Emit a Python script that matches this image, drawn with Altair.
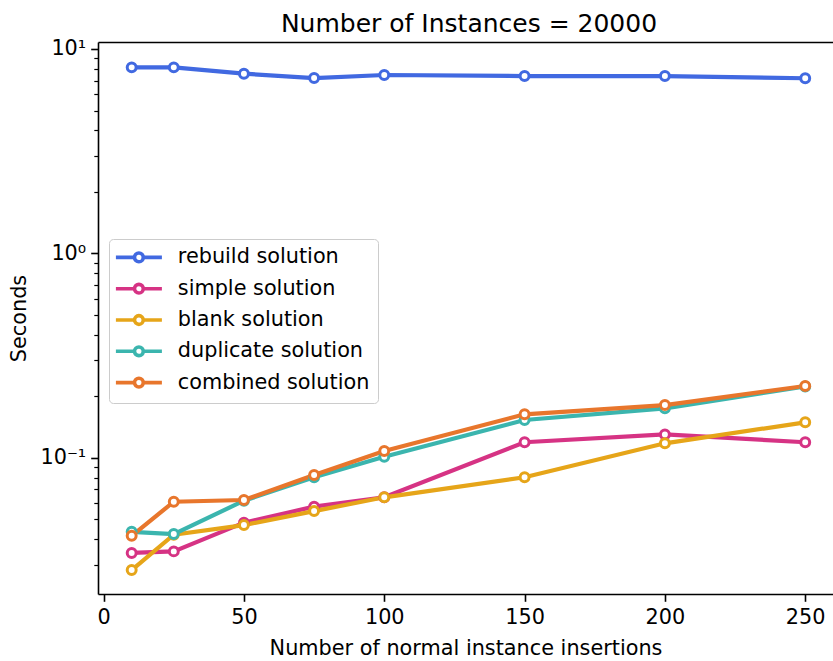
import altair as alt
import pandas as pd

# ---- data ----
x_vals = [10, 25, 50, 75, 100, 150, 200, 250]
rebuild = [8.13, 8.13, 7.57, 7.21, 7.46, 7.37, 7.37, 7.19]
simple = [0.0342, 0.0348, 0.0481, 0.0576, 0.0640, 0.119, 0.130, 0.119]
blank = [0.0282, 0.0420, 0.0468, 0.0548, 0.0640, 0.0802, 0.1176, 0.149]
duplicate = [0.0434, 0.0423, 0.0616, 0.0802, 0.1011, 0.1529, 0.1745, 0.223]
combined = [0.0415, 0.0609, 0.0621, 0.0823, 0.1079, 0.163, 0.181, 0.2244]

series_names = ["rebuild solution", "simple solution", "blank solution",
                "duplicate solution", "combined solution"]
series_values = [rebuild, simple, blank, duplicate, combined]
colors = ["#4169E1", "#D63384", "#E6A519", "#3BB5AE", "#E8762C"]

x_ticks = [0, 50, 100, 150, 200, 250]
major_ticks = [0.1, 1, 10]
minor_ticks = [0.03, 0.04, 0.05, 0.06, 0.07, 0.08, 0.09,
               0.2, 0.3, 0.4, 0.5, 0.6, 0.7, 0.8, 0.9,
               2, 3, 4, 5, 6, 7, 8, 9]

rows = []
for k, (name, vals) in enumerate(zip(series_names, series_values)):
    for x, v in zip(x_vals, vals):
        rows.append({"n": x, "sec": v, "series": name, "k": k})
df = pd.DataFrame(rows)

FONT = "DejaVu Sans"
legend_path = ("M-1.5,0L0.93,0M2.07,0L4.5,0"
               "M0.93,0A0.57,0.57 0 1 1 2.07,0A0.57,0.57 0 1 1 0.93,0Z")

x_scale = alt.Scale(domain=[-2, 259.9], nice=False, zero=False)
y_scale = alt.Scale(type="log", domain=[0.02153, 10.82], nice=False)

major_test = "abs(log(datum.value)/LN10 - round(log(datum.value)/LN10)) < 1e-6"

lines = alt.Chart(df).mark_line(
    strokeWidth=4.2,
    point=alt.OverlayMarkDef(filled=False, fill="white", fillOpacity=1,
                             size=80, strokeWidth=3, opacity=1),
).encode(
    x=alt.X("n:Q", scale=x_scale,
            axis=alt.Axis(values=x_ticks, title="Number of normal instance insertions",
                          orient="bottom", tickSize=7.3, tickWidth=1.6,
                          labelPadding=6, titlePadding=11, format="d")),
    y=alt.Y("sec:Q", scale=y_scale,
            axis=alt.Axis(values=major_ticks + minor_ticks, title="Seconds",
                          labelExpr="datum.value == 10 ? '10¹' : datum.value == 1 ? '10⁰' : datum.value == 0.1 ? '10⁻¹' : ''",
                          tickSize={"condition": {"test": major_test, "value": 7.3}, "value": 4.2},
                          tickWidth={"condition": {"test": major_test, "value": 1.6}, "value": 1.2},
                          labelPadding=5, titlePadding=10, labelOverlap=False)),
    color=alt.Color("series:N",
                    scale=alt.Scale(domain=series_names, range=colors),
                    legend=alt.Legend(title=None, orient="none", legendX=11, legendY=197,
                                      symbolType=legend_path, symbolSize=235,
                                      symbolStrokeWidth=3.6, symbolFillColor="white",
                                      symbolOpacity=1,
                                      labelFont=FONT, labelFontSize=20.8, labelColor="black",
                                      labelOffset=40, labelLimit=0,
                                      rowPadding=7.3, padding=8,
                                      strokeColor="#cccccc", fillColor="white",
                                      cornerRadius=4)),
    order=alt.Order("k:Q"),
)

top_frame = alt.Chart(df).mark_point(opacity=0).encode(
    x=alt.X("n:Q", scale=x_scale,
            axis=alt.Axis(orient="top", labels=False, ticks=False, title=None, domain=True)),
    y=alt.Y("sec:Q", scale=y_scale),
)

chart = alt.layer(lines, top_frame).resolve_axis(x="independent").properties(
    width=735, height=552,
    title=alt.TitleParams("Number of Instances = 20000", font=FONT, fontSize=25,
                          fontWeight="normal", color="black", anchor="middle",
                          baseline="alphabetic", offset=12, dx=3.5, dy=31),
    autosize=alt.AutoSizeParams(type="none"),
    padding={"left": 98, "top": 42, "right": 0, "bottom": 67},
).configure_view(stroke=None).configure_axis(
    labelFont=FONT, titleFont=FONT, labelFontSize=20.8, titleFontSize=20.8,
    titleFontWeight="normal", labelColor="black", titleColor="black",
    domainColor="black", domainWidth=1.6, tickColor="black", grid=False,
)

chart.save("out.html", embed_options={"renderer": "svg", "actions": False})
